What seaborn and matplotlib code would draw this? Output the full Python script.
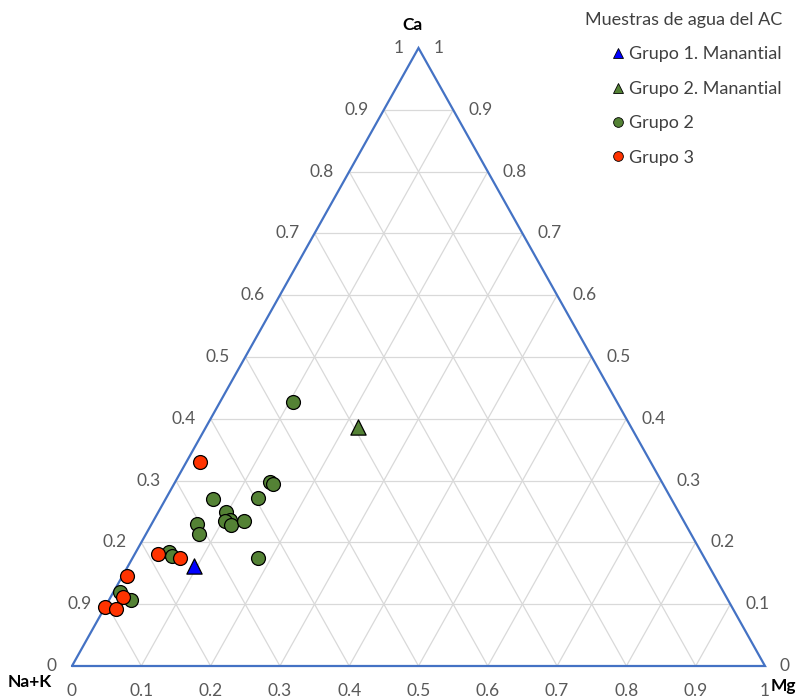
import matplotlib
matplotlib.use("Agg")
import matplotlib.pyplot as plt
from matplotlib.lines import Line2D
import numpy as np
import pandas as pd
import seaborn as sns

# Ternary composition (fractions): Ca and Mg; Na+K = 1 - Ca - Mg
g1_man_ca = [0.162]
g1_man_mg = [0.095]
g2_man_ca = [0.387]
g2_man_mg = [0.219]
g2_ca = [0.427, 0.297, 0.294, 0.270, 0.272, 0.250, 0.237, 0.234, 0.228,
         0.235, 0.230, 0.214, 0.174, 0.185, 0.178, 0.119, 0.107]
g2_mg = [0.105, 0.137, 0.143, 0.069, 0.132, 0.097, 0.110, 0.104, 0.116,
         0.130, 0.065, 0.076, 0.182, 0.047, 0.056, 0.010, 0.031]
g3_ca = [0.330, 0.181, 0.174, 0.146, 0.112, 0.095, 0.093]
g3_mg = [0.020, 0.033, 0.069, 0.007, 0.018, 0.000, 0.017]

group_names = ["Grupo 1. Manantial", "Grupo 2. Manantial", "Grupo 2", "Grupo 3"]
group_ca = [g1_man_ca, g2_man_ca, g2_ca, g3_ca]
group_mg = [g1_man_mg, g2_man_mg, g2_mg, g3_mg]
group_colors = ["#0000ff", "#548235", "#548235", "#ff3300"]
group_markers = ["^", "^", "o", "o"]
group_sizes = [120, 120, 100, 100]

tick_values = [i / 10 for i in range(11)]
left_labels = ["0", "0.9", "0.2", "0.3", "0.4", "0.5", "0.6", "0.7", "0.8", "0.9", "1"]
right_labels = ["0", "0.1", "0.2", "0.3", "0.4", "0.5", "0.6", "0.7", "0.8", "0.9", "1"]
bottom_labels = ["0", "0.1", "0.2", "0.3", "0.4", "0.5", "0.6", "0.7", "0.8", "0.9", "1"]

rows = []
for name, cas, mgs in zip(group_names, group_ca, group_mg):
    for ca, mg in zip(cas, mgs):
        rows.append({"grupo": name, "Ca": ca, "Mg": mg, "NaK": 1 - ca - mg})
df = pd.DataFrame(rows)
# Cartesian position inside the triangle (Na+K left, Mg right, Ca top)
df["X"] = df["Mg"] + df["Ca"] / 2
df["Y"] = df["Ca"]

sns.set_style("white")
plt.rcParams["font.family"] = ["Lato", "DejaVu Sans"]

W, H = 803, 698
fig = plt.figure(figsize=(W / 100, H / 100), dpi=100)
ax = fig.add_axes([72 / W, 32 / H, 693 / W, 618 / H])

grid_kw = dict(color="#d9d9d9", lw=0.9, zorder=1)
for t in tick_values[1:-1]:
    ax.plot([t / 2, 1 - t / 2], [t, t], **grid_kw)
    ax.plot([t, t + (1 - t) / 2], [0, 1 - t], **grid_kw)
    ax.plot([1 - t, (1 - t) / 2], [0, 1 - t], **grid_kw)

ax.plot([0, 1, 0.5, 0], [0, 0, 1, 0], color="#4472c4", lw=1.6, zorder=2,
        solid_joinstyle="miter", clip_on=False)

for name, color, marker, size in zip(group_names, group_colors, group_markers, group_sizes):
    sub = df[df["grupo"] == name]
    sns.scatterplot(data=sub, x="X", y="Y", ax=ax, color=color, marker=marker,
                    s=size, edgecolor="black", linewidth=0.9, legend=False,
                    zorder=3, clip_on=False)
ax.set_xlim(0, 1)
ax.set_ylim(0, 1)
ax.axis("off")

tick_kw = dict(fontsize=12.5, color="#595959", textcoords="offset pixels")
for v, lab in zip(tick_values, left_labels):
    ax.annotate(lab, xy=(v / 2, v), xytext=(-15, 0), ha="right", va="center", **tick_kw)
for v, lab in zip(tick_values, right_labels):
    ax.annotate(lab, xy=(1 - v / 2, v), xytext=(15, 0), ha="left", va="center", **tick_kw)
for v, lab in zip(tick_values, bottom_labels):
    ax.annotate(lab, xy=(v, 0), xytext=(0, -25), ha="center", va="center", **tick_kw)

vertex_kw = dict(fontsize=12.5, fontweight="bold", color="black", ha="center", va="center")
fig.text(413 / W, 1 - 25 / H, "Ca", **vertex_kw)
fig.text(30 / W, 1 - 682 / H, "Na+K", **vertex_kw)
fig.text(783 / W, 1 - 686 / H, "Mg", **vertex_kw)

handles = [Line2D([], [], ls="", marker=m, markersize=7.5 if m == "^" else 7,
                  markerfacecolor=c, markeredgecolor="black", markeredgewidth=0.6)
           for m, c in zip(group_markers, group_colors)]
leg = ax.legend(handles, group_names, title="Muestras de agua del AC",
                loc="upper right", bbox_to_anchor=(782 / W, 1 - 12 / H),
                bbox_transform=fig.transFigure, frameon=False, fontsize=13,
                title_fontsize=13, handlelength=0.9, handletextpad=0.2,
                labelspacing=1.02, borderpad=0, borderaxespad=0, alignment="right",
                labelcolor="#404040")
leg.get_title().set_color("#404040")

fig.savefig("out.png", dpi=100)
